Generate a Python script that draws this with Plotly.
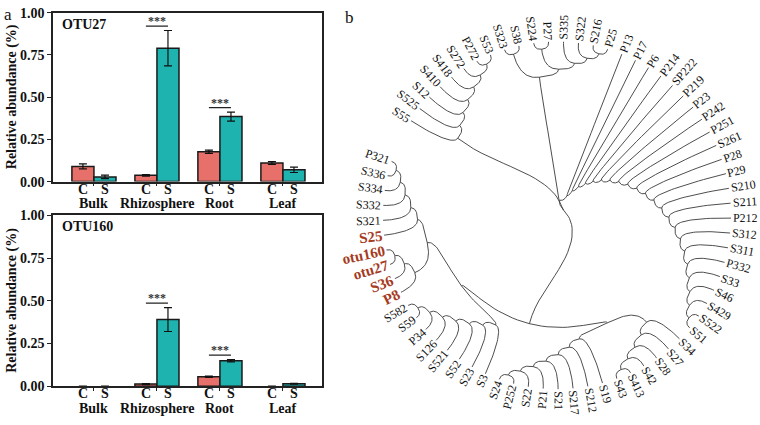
import math
import plotly.graph_objects as go

# ---------------- data: panel a ----------------
groups = ["Bulk", "Rhizosphere", "Root", "Leaf"]
treat = ["C", "S"]
otu27_C = [0.090, 0.037, 0.177, 0.110]
otu27_C_err = [0.015, 0.004, 0.010, 0.008]
otu27_S = [0.028, 0.790, 0.385, 0.070]
otu27_S_err = [0.010, 0.105, 0.027, 0.016]
otu160_C = [0.0, 0.012, 0.055, 0.0]
otu160_C_err = [0.0, 0.003, 0.004, 0.0]
otu160_S = [0.0, 0.390, 0.149, 0.014]
otu160_S_err = [0.0, 0.070, 0.007, 0.003]
sig_groups = ["Rhizosphere", "Root"]
sig_text = "***"
y_ticks = [0.0, 0.25, 0.50, 0.75, 1.00]
panel_titles = ["OTU27", "OTU160"]

# ---------------- data: panel b (tree topology) ----------------
def ladder(names):
    node = names[-1]
    for n in reversed(names[:-1]):
        node = (n, node)
    return node

clade_A = ["S55", "S525", "S12", "S410", "S418", "S272", "P272", "S53"]
clade_B1 = ["S323", "S38"]
clade_B2 = ["S224", "P27"]
clade_B3 = ["S335", "S322", "S216", "P25"]
clade_C = ["P13", "P17", "P6", "P214", "SP222", "P219", "P23", "P242", "P251",
           "S261", "P28", "P29", "S210", "S211", "P212", "S312", "S311", "P332",
           "S33", "S46", "S429", "S522", "S51"]
clade_D = ["S34", "S27", "S28", "S42", "S413", "S43"]
clade_E = ["S19", "S212", "S217", "S21", "P21", "S22", "P252", "S24"]
clade_F = ["S3", "S23", "S52", "S521", "S126", "P34", "S59", "S582"]
clade_G1 = ["P8", "S36", "otu27", "otu160"]
clade_G2 = ["S25", "S321", "S332", "S334", "S336", "P321"]
highlight = ["S25", "otu160", "otu27", "S36", "P8"]

tree = (
    ladder(clade_A),
    ((tuple(clade_B1), (tuple(clade_B2), ladder(clade_B3))), ladder(clade_C)),
    ((ladder(clade_D), ladder(clade_E)),
     (ladder(clade_F), (ladder(clade_G1), ladder(clade_G2)))),
)

# ---------------- style ----------------
FONT = "Liberation Serif, Times New Roman, serif"
COL_C = "#E8706A"
COL_S = "#1FB3B0"
EDGE = "#1a1a1a"
RED = "#A63A22"
W, H = 760, 425

fig = go.Figure()

# ---------------- panel a ----------------
panels = [
    dict(C=otu27_C, Ce=otu27_C_err, S=otu27_S, Se=otu27_S_err, xa="x", ya="y", top=6, bot=181),
    dict(C=otu160_C, Ce=otu160_C_err, S=otu160_S, Se=otu160_S_err, xa="x2", ya="y2", top=216, bot=393),
]
annotations = []
shapes = []
for pi, p in enumerate(panels):
    for name, vals, errs, col in (("C", p["C"], p["Ce"], COL_C), ("S", p["S"], p["Se"], COL_S)):
        # bars with zero abundance are not drawn at all (no outline, no error cap)
        line_w = [1.5 if v > 0 else 0 for v in vals]
        err_draw = [e if v > 0 else float("nan") for v, e in zip(vals, errs)]
        fig.add_trace(go.Bar(
            x=groups, y=vals, name=name, xaxis=p["xa"], yaxis=p["ya"],
            marker=dict(color=col, line=dict(color=EDGE, width=line_w)),
            error_y=dict(type="data", array=err_draw, color="#111", thickness=1.2, width=4),
            showlegend=False, hoverinfo="skip",
        ))
    # significance brackets
    for g in sig_groups:
        i = groups.index(g)
        top = max(p["S"][i] + p["Se"][i], p["C"][i] + p["Ce"][i]) + 0.026
        shapes.append(dict(type="line", xref=p["xa"], yref=p["ya"],
                           x0=i - 0.175, x1=i + 0.175, y0=top, y1=top,
                           line=dict(color="#222", width=1.3)))
        annotations.append(dict(x=i, y=top, xref=p["xa"], yref=p["ya"], text="<b>%s</b>" % sig_text,
                                showarrow=False, yanchor="bottom", yshift=-4,
                                font=dict(family=FONT, size=12, color="#333")))
    # C / S labels and group names
    for i, g in enumerate(groups):
        for t, sh in zip(treat, (-11, 11)):
            annotations.append(dict(x=i, xref=p["xa"], xshift=sh, y=1 - (p["bot"] + 8) / H,
                                    yref="paper", text="<b>%s</b>" % t, showarrow=False,
                                    yanchor="middle", font=dict(family=FONT, size=14, color="#111")))
        annotations.append(dict(x=i, xref=p["xa"], y=1 - (p["bot"] + 23) / H, yref="paper",
                                text="<b>%s</b>" % g, showarrow=False, yanchor="middle",
                                font=dict(family=FONT, size=14, color="#111")))
    # panel title and y title
    annotations.append(dict(x=60 / W, y=1 - (p["top"] + 12) / H, xref="paper", yref="paper",
                            text="<b>%s</b>" % panel_titles[pi], showarrow=False,
                            xanchor="left", yanchor="middle",
                            font=dict(family=FONT, size=14, color="#111")))
    annotations.append(dict(x=12 / W, y=1 - ((p["top"] + p["bot"]) / 2) / H, xref="paper", yref="paper",
                            text="<b>Relative abundance (%)</b>", showarrow=False, textangle=-90,
                            xanchor="center", yanchor="middle",
                            font=dict(family=FONT, size=14, color="#111")))

axis_common = dict(showline=True, mirror=True, linecolor="#222", linewidth=1.5,
                   showgrid=False, zeroline=False)
xdom = [53 / W, 322 / W]
layout_axes = {}
for p, xk, yk in ((panels[0], "xaxis", "yaxis"), (panels[1], "xaxis2", "yaxis2")):
    anchor_y = "y" if yk == "yaxis" else "y2"
    anchor_x = "x" if xk == "xaxis" else "x2"
    layout_axes[xk] = dict(axis_common, domain=xdom, type="category", range=[-0.65, 3.62],
                           ticks="outside", ticklen=3, tickcolor="#222", showticklabels=False,
                           anchor=anchor_y)
    layout_axes[yk] = dict(axis_common, domain=[1 - p["bot"] / H, 1 - p["top"] / H], range=[0, 1],
                           tickvals=y_ticks, tickformat=".2f", ticks="outside", ticklen=4,
                           tickcolor="#222", anchor=anchor_x,
                           tickfont=dict(family=FONT, size=14, color="#111", weight="bold"))

# ---------------- panel b: circular tree ----------------
CX, CY = 557.0, 216.0
SX, SY = 1.0, 1.035
R_TIP = 174.0
K = 6.9
THETA0 = 147.0
DTHETA = 4.93

leaves = []
def collect(node):
    if isinstance(node, str):
        leaves.append(node)
    else:
        for ch in node:
            collect(ch)
collect(tree)
leaf_theta = {n: THETA0 - i * DTHETA for i, n in enumerate(leaves)}

edges = []
def layout_node(node):
    if isinstance(node, str):
        return leaf_theta[node], 0
    res = [layout_node(ch) for ch in node]
    th = sum(r[0] for r in res) / len(res)
    h = 1 + max(r[1] for r in res)
    for (cth, ch_h) in res:
        edges.append((th, h, cth, ch_h))
    return th, h
layout_node(tree)

def rad(h):
    return max(R_TIP - K * h, 0.0)

def to_xy(r, th):
    a = math.radians(th)
    return CX + SX * r * math.cos(a), CY - SY * r * math.sin(a)

tx, ty = [], []
NS = 24
for (pth, ph, cth, chh) in edges:
    rp, rc = rad(ph), rad(chh)
    for k in range(NS + 1):
        t = k / NS
        th = pth + (cth - pth) * (1 - (1 - t) ** 2)
        r = rp + (rc - rp) * t * t
        xx, yy = to_xy(r, th)
        tx.append(xx)
        ty.append(yy)
    tx.append(None)
    ty.append(None)

fig.add_trace(go.Scatter(x=tx, y=ty, mode="lines", xaxis="x3", yaxis="y3",
                         line=dict(color="#3a3a3a", width=0.9), hoverinfo="skip",
                         showlegend=False))

CW_REG = {"S": 0.556, "P": 0.556, "o": 0.5, "t": 0.278, "u": 0.5}
CW_BOLD = {"S": 0.556, "P": 0.611, "o": 0.5, "t": 0.333, "u": 0.556}
for n in leaves:
    th = leaf_theta[n]
    thn = (th + 180) % 360 - 180
    bold = n in highlight
    size = 15 if bold else 12
    cw = CW_BOLD if bold else CW_REG
    w = sum(cw.get(c, 0.5) for c in n) * size
    if -90 <= thn <= 90:
        ang = -thn
    else:
        ang = 180 - thn
        ang = (ang + 180) % 360 - 180
    rc = R_TIP + 2 + w / 2
    xx, yy = to_xy(rc, th)
    annotations.append(dict(
        x=xx, y=yy, xref="x3", yref="y3",
        text=("<b>%s</b>" % n) if bold else n, textangle=ang, showarrow=False,
        xanchor="center", yanchor="middle",
        font=dict(family=FONT, size=size, color=RED if bold else "#111")))

layout_axes["xaxis3"] = dict(domain=[340 / W, 1], range=[340, 760], visible=False, anchor="y3")
layout_axes["yaxis3"] = dict(domain=[0, 1], range=[425, 0], visible=False, anchor="x3")

# panel letters
annotations.append(dict(x=2 / W, y=1 - 8 / H, xref="paper", yref="paper", text="a",
                        showarrow=False, xanchor="left", yanchor="middle",
                        font=dict(family=FONT, size=17, color="#111")))
annotations.append(dict(x=343 / W, y=1 - 11 / H, xref="paper", yref="paper", text="b",
                        showarrow=False, xanchor="left", yanchor="middle",
                        font=dict(family=FONT, size=17, color="#111")))

fig.update_layout(
    width=W, height=H, margin=dict(l=0, r=0, t=0, b=0),
    paper_bgcolor="white", plot_bgcolor="white",
    barmode="group", bargap=0.3, bargroupgap=0,
    annotations=annotations, shapes=shapes,
    font=dict(family=FONT),
    **layout_axes,
)
fig.write_html("out.html", config={"displayModeBar": False},
               post_script="document.body.style.margin='0';document.body.style.padding='0';")
